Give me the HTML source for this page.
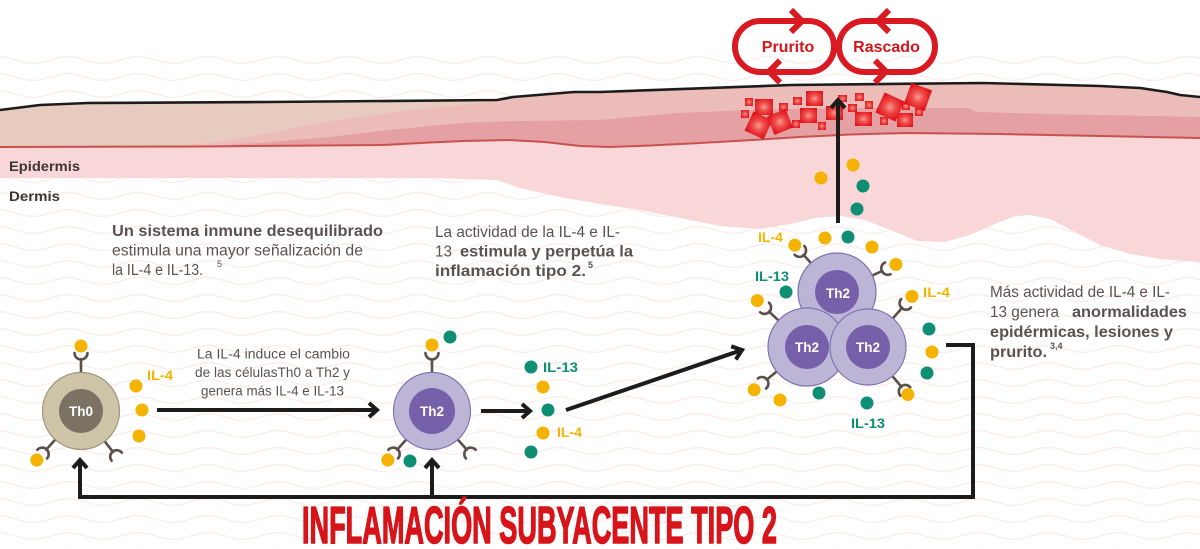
<!DOCTYPE html>
<html><head><meta charset="utf-8">
<style>
html,body{margin:0;padding:0;background:#fff;}
body{width:1200px;height:549px;overflow:hidden;}
svg{display:block;font-family:"Liberation Sans",sans-serif;}
</style></head>
<body>
<svg width="1200" height="549" viewBox="0 0 1200 549" xmlns="http://www.w3.org/2000/svg">
<defs>
  <pattern id="wv" x="0" y="51.5" width="70" height="17" patternUnits="userSpaceOnUse">
    <path d="M-37,12 C-25.9,12 -13.1,5 -2,5 C9.1,5 21.9,12 33,12 C44.1,12 56.9,5 68,5 C79.1,5 91.9,12 103,12" fill="none" stroke="#fcecec" stroke-width="1.4"/>
  </pattern>
  <radialGradient id="sq" cx="0.5" cy="0.5" r="0.6">
    <stop offset="0" stop-color="#f79a92"/>
    <stop offset="0.45" stop-color="#ee4a48"/>
    <stop offset="1" stop-color="#e0141c"/>
  </radialGradient>
</defs>

<!-- background waves -->
<rect x="0" y="52" width="1200" height="497" fill="url(#wv)"/>

<!-- dermis -->
<polygon fill="#f9d6d7" points="0,147 200,146.5 383,145 430,142.5 463,141 509,140 545,142 580,146 610,147 650,145.5 700,143 753,140 800,137 850,134.5 906,133 1000,134 1100,136 1200,138 1200,262 1160,259 1130,254 1100,245 1075,232 1050,219 1030,215 1015,216 995,224 970,235 945,242 917,241 890,230 865,220 840,216 815,218 790,224 760,229 720,226 680,218 640,210 600,204 560,197 520,188 497,180 430,178 300,178 0,178"/>

<!-- epidermis base (beige) -->
<polygon fill="#e8cbbf" points="0,110 40,105 88,103 268,102 497,100 513,97 574,92 600,92 791,85 983,83 1100,86 1140,88 1167,92 1180,95 1200,97 1200,138 1100,136 1000,134 906,133 850,134.5 800,137 753,140 700,143 650,145.5 610,147 580,146 545,142 509,140 463,141 430,142.5 383,145 200,146.5 0,147"/>
<!-- layer A pink -->
<polygon fill="#ebbcb8" points="160,147.5 220,142 280,131 330,121 380,114 430,108 480,103 513,97 574,92 600,92 791,85 983,83 1100,86 1140,88 1167,92 1180,95 1200,97 1200,138 1100,136 1000,134 906,133 850,134.5 800,137 753,140 700,143 650,145.5 610,147 580,146 545,142 509,140 463,141 430,142.5 383,145 200,146.5"/>
<!-- layer B dark pink -->
<polygon fill="#e4a0a2" points="180,147.5 260,143 330,137 380,131 430,126 470,122.5 520,121 600,120 677,113 753,110 850,108 967,108 977,112 1050,114 1200,117 1200,138 1100,136 1000,134 906,133 850,134.5 800,137 753,140 700,143 650,145.5 610,147 580,146 545,142 509,140 463,141 430,142.5 383,145 200,146.5"/>
<!-- red line -->
<polyline fill="none" stroke="#c9524f" stroke-width="2" points="0,147 200,146.5 383,145 430,142.5 463,141 509,140 545,142 580,146 610,147 650,145.5 700,143 753,140 800,137 850,134.5 906,133 1000,134 1100,136 1200,138"/>
<!-- black top line -->
<polyline fill="none" stroke="#1c1c1c" stroke-width="2.6" stroke-linejoin="round" points="0,110 40,105 88,103 268,102 497,100 513,97 574,92 600,92 791,85 983,83 1100,86 1140,88 1167,92 1180,95 1200,97"/>

<!-- inflammation squares -->
<g fill="url(#sq)">
  <rect x="745" y="98" width="8" height="8"/>
  <rect x="741" y="110" width="8" height="8"/>
  <rect x="779" y="103" width="9" height="8"/>
  <rect x="793" y="97" width="9" height="8"/>
  <rect x="792" y="120" width="8" height="8"/>
  <rect x="818" y="122" width="8" height="8"/>
  <rect x="838" y="95" width="9" height="7"/>
  <rect x="848" y="104" width="9" height="8"/>
  <rect x="855" y="93" width="9" height="8"/>
  <rect x="865" y="101" width="8" height="8"/>
  <rect x="880" y="117" width="8" height="8"/>
  <rect x="902" y="102" width="8" height="8"/>
  <rect x="915" y="108" width="8" height="8"/>
  <rect x="755" y="99" width="18" height="16"/>
  <rect x="806" y="91" width="17" height="15"/>
  <rect x="800" y="108" width="17" height="15"/>
  <rect x="826" y="106" width="17" height="14"/>
  <rect x="855" y="112" width="17" height="14"/>
  <rect x="897" y="113" width="16" height="14"/>
  <rect x="748" y="115" width="21" height="21" transform="rotate(25 758.5 125.5)"/>
  <rect x="770" y="112" width="20" height="20" transform="rotate(-22 780 122)"/>
  <rect x="879" y="96" width="22" height="22" transform="rotate(25 890 107)"/>
  <rect x="907" y="86" width="22" height="22" transform="rotate(20 918 97)"/>
</g>

<!-- Prurito / Rascado loops -->
<g fill="none" stroke="#da1a22" stroke-width="6" stroke-linejoin="miter" stroke-linecap="butt">
  <rect x="735" y="21" width="99" height="51" rx="25.5" ry="25.5"/>
  <rect x="839" y="21" width="96" height="51" rx="25.5" ry="25.5"/>
  <polyline points="791,10 802,21 791,32"/>
  <polyline points="780,60.5 769,71.5 780,82.5"/>
  <polyline points="889,10 878,21 889,32"/>
  <polyline points="875,60.5 886,71.5 875,82.5"/>
</g>
<text x="788" y="52" font-size="16" font-weight="bold" fill="#d7141a" text-anchor="middle">Prurito</text>
<text x="886.5" y="52" font-size="16" font-weight="bold" fill="#d7141a" text-anchor="middle">Rascado</text>

<!-- Epidermis / Dermis labels -->
<text x="9" y="171" font-size="14" font-weight="bold" fill="#3d3636" textLength="71" lengthAdjust="spacingAndGlyphs">Epidermis</text>
<text x="9" y="201" font-size="14" font-weight="bold" fill="#3d3636" textLength="51" lengthAdjust="spacingAndGlyphs">Dermis</text>

<!-- Paragraph texts -->
<g fill="#5a5250" font-size="15.5">
  <text x="112" y="236" font-weight="bold" textLength="271" lengthAdjust="spacingAndGlyphs">Un sistema inmune desequilibrado</text>
  <text x="112" y="255.5" textLength="251" lengthAdjust="spacingAndGlyphs">estimula una mayor señalización de</text>
  <text x="112" y="275" textLength="91" lengthAdjust="spacingAndGlyphs">la IL-4 e IL-13.</text>
  <text x="217" y="267" font-size="9">5</text>

  <text x="435" y="237" textLength="185" lengthAdjust="spacingAndGlyphs">La actividad de la IL-4 e IL-</text>
  <text x="435" y="256.5" textLength="17" lengthAdjust="spacingAndGlyphs">13</text>
  <text x="460" y="256.5" font-weight="bold" textLength="173" lengthAdjust="spacingAndGlyphs">estimula y perpetúa la</text>
  <text x="435" y="276" font-weight="bold" textLength="151" lengthAdjust="spacingAndGlyphs">inflamación tipo 2.</text>
  <text x="588" y="268" font-size="9" font-weight="bold">5</text>

  <text x="990" y="297" textLength="180" lengthAdjust="spacingAndGlyphs">Más actividad de IL-4 e IL-</text>
  <text x="990" y="317" textLength="69" lengthAdjust="spacingAndGlyphs">13 genera</text>
  <text x="1072" y="317" font-weight="bold" textLength="115" lengthAdjust="spacingAndGlyphs">anormalidades</text>
  <text x="990" y="337" font-weight="bold" textLength="183" lengthAdjust="spacingAndGlyphs">epidérmicas, lesiones y</text>
  <text x="990" y="357" font-weight="bold" textLength="57" lengthAdjust="spacingAndGlyphs">prurito.</text>
  <text x="1050" y="349" font-size="9" font-weight="bold">3,4</text>
</g>
<g fill="#5a5250" font-size="13.5">
  <text x="197" y="358.5" textLength="153" lengthAdjust="spacingAndGlyphs">La IL-4 induce el cambio</text>
  <text x="195" y="377" textLength="155" lengthAdjust="spacingAndGlyphs">de las célulasTh0 a Th2 y</text>
  <text x="201" y="395.5" textLength="143" lengthAdjust="spacingAndGlyphs">genera más IL-4 e IL-13</text>
</g>

<!-- IL labels -->
<g font-size="14" font-weight="bold">
  <text x="147" y="380" fill="#f5b301" textLength="26" lengthAdjust="spacingAndGlyphs">IL-4</text>
  <text x="543" y="372" fill="#0e8f74" textLength="35" lengthAdjust="spacingAndGlyphs">IL-13</text>
  <text x="557" y="437" fill="#f5b301" textLength="25" lengthAdjust="spacingAndGlyphs">IL-4</text>
  <text x="758" y="242" fill="#f5b301" textLength="25" lengthAdjust="spacingAndGlyphs">IL-4</text>
  <text x="755" y="281" fill="#0e8f74" textLength="34" lengthAdjust="spacingAndGlyphs">IL-13</text>
  <text x="923" y="297" fill="#f5b301" textLength="27" lengthAdjust="spacingAndGlyphs">IL-4</text>
  <text x="851" y="428" fill="#0e8f74" textLength="34" lengthAdjust="spacingAndGlyphs">IL-13</text>
</g>

<!-- receptors -->
<g stroke="#5b4f4a" stroke-width="2.6" fill="none" stroke-linecap="round">
  <g transform="translate(81,411) rotate(0)"><path d="M0,-38 V-52 M-6.5,-58 A6.5,6.5 0 0 0 6.5,-58"/><circle cx="0" cy="-65" r="6.5" fill="#f5b301" stroke="none"/></g>
  <g transform="translate(81,411) rotate(-138)"><path d="M0,-38 V-52 M-6.5,-58 A6.5,6.5 0 0 0 6.5,-58"/><circle cx="0" cy="-66" r="6.5" fill="#f5b301" stroke="none"/></g>
  <g transform="translate(81,411) rotate(142)"><path d="M0,-38 V-52 M-6.5,-58 A6.5,6.5 0 0 0 6.5,-58"/></g>

  <g transform="translate(432,411) rotate(0)"><path d="M0,-38 V-52 M-6.5,-58 A6.5,6.5 0 0 0 6.5,-58"/><circle cx="0" cy="-66" r="6.5" fill="#f5b301" stroke="none"/></g>
  <g transform="translate(432,411) rotate(-138)"><path d="M0,-38 V-52 M-6.5,-58 A6.5,6.5 0 0 0 6.5,-58"/><circle cx="0" cy="-66" r="6.5" fill="#f5b301" stroke="none"/></g>
  <g transform="translate(432,411) rotate(138)"><path d="M0,-38 V-52 M-6.5,-58 A6.5,6.5 0 0 0 6.5,-58"/></g>

  <g transform="translate(837,292) rotate(-42)"><path d="M0,-38 V-50 M-6.5,-56 A6.5,6.5 0 0 0 6.5,-56"/><circle cx="0" cy="-63" r="6.5" fill="#f5b301" stroke="none"/></g>
  <g transform="translate(837,292) rotate(65)"><path d="M0,-38 V-50 M-6.5,-56 A6.5,6.5 0 0 0 6.5,-56"/><circle cx="0" cy="-65" r="6.5" fill="#f5b301" stroke="none"/></g>
  <g transform="translate(807,347) rotate(-47)"><path d="M0,-38 V-52 M-6.5,-58 A6.5,6.5 0 0 0 6.5,-58"/><circle cx="0" cy="-68" r="6.5" fill="#f5b301" stroke="none"/></g>
  <g transform="translate(807,347) rotate(-129)"><path d="M0,-38 V-52 M-6.5,-58 A6.5,6.5 0 0 0 6.5,-58"/><circle cx="0" cy="-68" r="6.5" fill="#f5b301" stroke="none"/></g>
  <g transform="translate(868,347) rotate(41)"><path d="M0,-38 V-52 M-6.5,-58 A6.5,6.5 0 0 0 6.5,-58"/><circle cx="0" cy="-67" r="6.5" fill="#f5b301" stroke="none"/></g>
  <g transform="translate(868,347) rotate(140)"><path d="M0,-38 V-52 M-6.5,-58 A6.5,6.5 0 0 0 6.5,-58"/><circle cx="0" cy="-62" r="6.5" fill="#f5b301" stroke="none"/></g>
</g>

<!-- cells -->
<circle cx="81" cy="411" r="38.5" fill="#cec4a7" stroke="#9d937a" stroke-width="1.2"/>
<circle cx="81" cy="411" r="22" fill="#7b7264"/>
<text x="81" y="416" font-size="13.5" font-weight="bold" fill="#fff" text-anchor="middle">Th0</text>

<circle cx="432" cy="411" r="38.5" fill="#bcb5d6" stroke="#7f72b0" stroke-width="1.2"/>
<circle cx="432" cy="411" r="23" fill="#7660aa"/>
<text x="432" y="416" font-size="13.5" font-weight="bold" fill="#fff" text-anchor="middle">Th2</text>

<circle cx="837" cy="292" r="39" fill="#bcb5d6" stroke="#7f72b0" stroke-width="1.2"/>
<circle cx="837" cy="292" r="22" fill="#7660aa"/>
<text x="838" y="298" font-size="13.5" font-weight="bold" fill="#fff" text-anchor="middle">Th2</text>
<circle cx="807" cy="347" r="39" fill="#bcb5d6" stroke="#7f72b0" stroke-width="1.2"/>
<circle cx="807" cy="347" r="22" fill="#7660aa"/>
<text x="807" y="352" font-size="13.5" font-weight="bold" fill="#fff" text-anchor="middle">Th2</text>
<circle cx="868" cy="347" r="38" fill="#bcb5d6" stroke="#7f72b0" stroke-width="1.2"/>
<circle cx="868" cy="347" r="22" fill="#7660aa"/>
<text x="868" y="352" font-size="13.5" font-weight="bold" fill="#fff" text-anchor="middle">Th2</text>

<!-- free dots -->
<g fill="#f5b301">
  <circle cx="136" cy="386" r="6.5"/><circle cx="142" cy="410" r="6.5"/><circle cx="139" cy="436" r="6.5"/>
  <circle cx="543" cy="387" r="6.5"/><circle cx="543" cy="433" r="6.5"/>
  <circle cx="853" cy="165" r="6.5"/><circle cx="821" cy="178" r="6.5"/>
  <circle cx="825" cy="238" r="6.5"/><circle cx="872" cy="247" r="6.5"/>
  <circle cx="932" cy="352" r="6.5"/><circle cx="780" cy="400" r="6.5"/>
</g>
<g fill="#0e8f74">
  <circle cx="450" cy="337" r="6.5"/><circle cx="410" cy="461" r="6.5"/>
  <circle cx="531" cy="367" r="6.5"/><circle cx="548" cy="410" r="6.5"/><circle cx="531" cy="452" r="6.5"/>
  <circle cx="863" cy="186" r="6.5"/><circle cx="857" cy="209" r="6.5"/><circle cx="848" cy="237" r="6.5"/>
  <circle cx="786" cy="292" r="6.5"/><circle cx="929" cy="329" r="6.5"/><circle cx="927" cy="373" r="6.5"/>
  <circle cx="819" cy="393" r="6.5"/><circle cx="867" cy="403" r="6.5"/>
</g>

<!-- arrows -->
<g fill="none" stroke="#1c1c1c" stroke-width="4" stroke-linejoin="miter" stroke-linecap="butt">
  <line x1="157" y1="410" x2="376" y2="410"/>
  <polyline points="369,403 377,410 369,417"/>
  <line x1="481" y1="411" x2="529" y2="411"/>
  <polyline points="522,404 530,411 522,418"/>
  <line x1="566" y1="410" x2="740" y2="350.7"/>
  <polyline points="731.2,346.3 742,350 735.8,359.5"/>
  <line x1="838" y1="223" x2="838" y2="101"/>
  <polyline points="831,108 838,100 845,108"/>
  <polyline points="946,345 973,345 973,497 80,497 80,461"/>
  <polyline points="73,468 80,460 87,468"/>
  <line x1="432" y1="497" x2="432" y2="461"/>
  <polyline points="425,468 432,460 439,468"/>
</g>

<!-- title -->
<text x="302" y="543" font-family="'Liberation Sans Narrow','Liberation Sans',sans-serif" font-size="52" font-weight="bold" fill="#d7141a" stroke="#d7141a" stroke-width="1.6" stroke-linejoin="round" textLength="475" lengthAdjust="spacingAndGlyphs">INFLAMACIÓN SUBYACENTE TIPO 2</text>
</svg>
</body></html>
